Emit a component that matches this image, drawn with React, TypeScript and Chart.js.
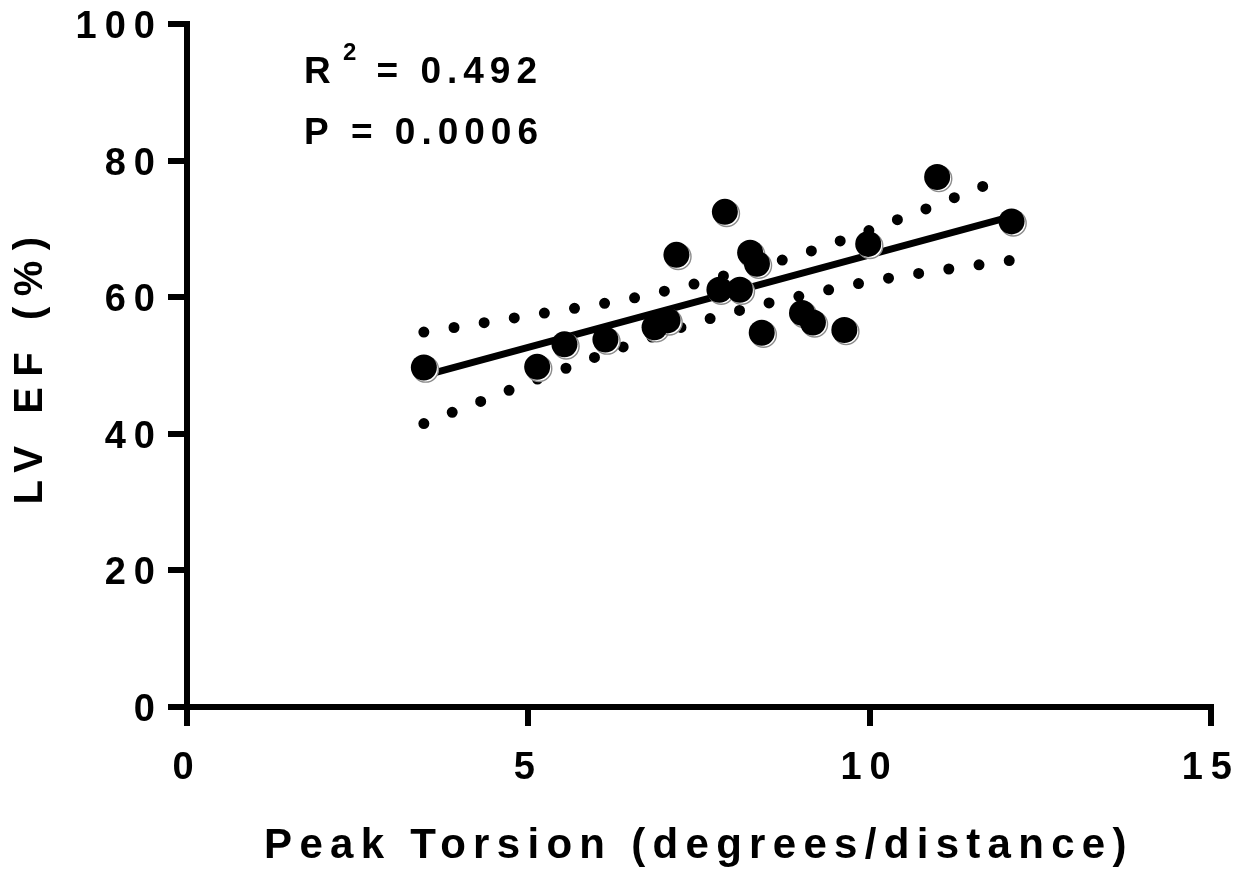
import React, { useEffect, useRef } from "react";
import { Chart, registerables } from "chart.js";

Chart.register(...registerables);

// ---- data ----
const torsion = [3.47, 5.13, 5.53, 6.13, 6.85, 7.04, 7.17, 7.88, 7.8, 8.1, 8.25, 8.35, 8.42, 9.01, 9.17, 9.63, 9.98, 10.99, 12.08];
const lvef = [49.7, 49.8, 53.1, 53.8, 55.6, 56.6, 66.2, 72.5, 61.1, 61.1, 66.5, 64.9, 54.8, 57.7, 56.3, 55.2, 67.8, 77.6, 71.1];

const fitX = [3.47, 12.07];
const fitY = [48.5, 71.8];

const bandX = [3.47, 4.0, 4.5, 5.0, 5.5, 6.0, 6.5, 7.0, 7.5, 8.0, 8.5, 9.0, 9.5, 10.0, 10.5, 11.0, 11.5, 12.07];
const upperBand = [54.9, 55.7, 56.5, 57.3, 58.1, 58.9, 59.8, 60.9, 62.1, 63.5, 64.8, 66.3, 68.0, 69.8, 71.7, 73.6, 75.6, 77.8];
const lowerBand = [41.5, 43.6, 45.5, 47.5, 49.4, 51.3, 53.1, 54.8, 56.4, 57.8, 59.1, 60.2, 61.3, 62.3, 63.15, 63.9, 64.6, 65.4];

const xTicks = [0, 5, 10, 15];
const yTicks = [0, 20, 40, 60, 80, 100];

const xTitle = "Peak Torsion (degrees/distance)";
const yTitle = "LV EF (%)";
const r2Text = "= 0.492";
const pText = "P = 0.0006";

const FAMILY = '"Liberation Sans", Arial, Helvetica, sans-serif';

const pairs = (xs: number[], ys: number[]) => xs.map((x, i) => ({ x, y: ys[i] }));

const SPACING: Record<string, { title: string; ticks: string }> = {
  x: { title: "7.3px", ticks: "8px" },
  y: { title: "10.5px", ticks: "8px" },
};

const spacingPlugin = {
  id: "letterSpacing",
  beforeDraw(chart: any) {
    Object.values(chart.scales).forEach((s: any) => {
      if (s.__wrapped) return;
      s.__wrapped = true;
      const ls = SPACING[s.id] || { title: "0px", ticks: "0px" };
      const oT = s.drawTitle.bind(s);
      const oL = s.drawLabels.bind(s);
      s.drawTitle = (...a: any[]) => {
        const c = chart.ctx;
        c.save();
        c.letterSpacing = ls.title;
        oT(...a);
        c.restore();
      };
      s.drawLabels = (...a: any[]) => {
        const c = chart.ctx;
        c.save();
        c.letterSpacing = ls.ticks;
        oL(...a);
        c.restore();
      };
    });
  },
};

const shadowPlugin = {
  id: "markerShadow",
  beforeDatasetDraw(chart: any, args: any) {
    if (chart.data.datasets[args.index]._shadow) {
      chart.ctx.save();
      chart.ctx.translate(1.8, 1.8);
    }
  },
  afterDatasetDraw(chart: any, args: any) {
    if (chart.data.datasets[args.index]._shadow) {
      chart.ctx.restore();
    }
  },
};

const statsPlugin = {
  id: "statsText",
  afterDraw(chart: any) {
    const ctx = chart.ctx;
    const { left, top } = chart.chartArea;
    ctx.save();
    ctx.fillStyle = "#000";
    ctx.textAlign = "left";
    ctx.textBaseline = "alphabetic";
    ctx.letterSpacing = "6px";
    ctx.font = `bold 37px ${FAMILY}`;
    ctx.fillText("R", left + 117, top + 59);
    ctx.fillText(r2Text, left + 189.5, top + 59);
    ctx.fillText(pText, left + 117, top + 119.5);
    ctx.font = `bold 24px ${FAMILY}`;
    ctx.letterSpacing = "0px";
    ctx.fillText("2", left + 156, top + 35.5);
    ctx.restore();
  },
};

export default function App() {
  const ref = useRef<HTMLCanvasElement | null>(null);

  useEffect(() => {
    if (!ref.current) return;
    const chart = new Chart(ref.current, {
      type: "scatter",
      data: {
        datasets: [
          {
            label: "points",
            data: pairs(torsion, lvef),
            backgroundColor: "#000",
            borderWidth: 0,
            pointRadius: 13,
            order: 1,
          } as any,
          {
            label: "shadow",
            _shadow: true,
            data: pairs(torsion, lvef),
            backgroundColor: "#fff",
            borderColor: "#8c8c8c",
            borderWidth: 1.4,
            pointRadius: 12.8,
            order: 2,
          } as any,
          {
            label: "fit",
            type: "line",
            data: pairs(fitX, fitY),
            borderColor: "#000",
            borderWidth: 7,
            pointRadius: 0,
            showLine: true,
            fill: false,
            order: 3,
          } as any,
          {
            label: "upper",
            type: "line",
            data: pairs(bandX, upperBand),
            borderColor: "#000",
            borderWidth: 11,
            borderDash: [0, 30.5],
            borderCapStyle: "round",
            borderJoinStyle: "round",
            cubicInterpolationMode: "monotone",
            pointRadius: 0,
            showLine: true,
            fill: false,
            order: 4,
          } as any,
          {
            label: "lower",
            type: "line",
            data: pairs(bandX, lowerBand),
            borderColor: "#000",
            borderWidth: 11,
            borderDash: [0, 30.5],
            borderCapStyle: "round",
            borderJoinStyle: "round",
            cubicInterpolationMode: "monotone",
            pointRadius: 0,
            showLine: true,
            fill: false,
            order: 5,
          } as any,
        ],
      },
      options: {
        responsive: false,
        animation: false,
        devicePixelRatio: 1,
        events: [],
        layout: { padding: { top: 23, right: 40, left: 0, bottom: 0 } },
        plugins: {
          legend: { display: false },
          tooltip: { enabled: false },
        },
        scales: {
          x: {
            type: "linear",
            position: "bottom",
            min: 0,
            max: 15,
            afterBuildTicks: (s: any) => {
              s.ticks = xTicks.map((v) => ({ value: v }));
            },
            afterFit: (s: any) => {
              s.height = 164;
            },
            grid: {
              display: true,
              drawOnChartArea: false,
              drawTicks: true,
              tickLength: 19,
              tickWidth: 6,
              lineWidth: 6,
              color: "#000",
            },
            border: { display: true, width: 6, color: "#000" },
            ticks: {
              color: "#000",
              font: { family: FAMILY, size: 38, weight: "bold", lineHeight: 1.2 },
              padding: 20,
              maxRotation: 0,
              autoSkip: false,
              callback: (v: any) => String(v),
            },
            title: {
              display: true,
              text: xTitle,
              color: "#000",
              font: { family: FAMILY, size: 42, weight: "bold", lineHeight: 1.16 },
              padding: { top: 0, bottom: 0 },
            },
          },
          y: {
            type: "linear",
            position: "left",
            min: 0,
            max: 100,
            afterBuildTicks: (s: any) => {
              s.ticks = yTicks.map((v) => ({ value: v }));
            },
            afterFit: (s: any) => {
              s.width = 187;
            },
            grid: {
              display: true,
              drawOnChartArea: false,
              drawTicks: true,
              tickLength: 19,
              tickWidth: 6,
              lineWidth: 6,
              color: "#000",
            },
            border: { display: true, width: 6, color: "#000" },
            ticks: {
              color: "#000",
              font: { family: FAMILY, size: 38, weight: "bold", lineHeight: 1.0 },
              padding: 5,
              labelOffset: 3.5,
              autoSkip: false,
              callback: (v: any) => String(v),
            },
            title: {
              display: true,
              text: yTitle,
              color: "#000",
              font: { family: FAMILY, size: 40, weight: "bold", lineHeight: 1.2 },
              padding: { top: 6.5, bottom: 0 },
            },
          },
        },
      } as any,
      plugins: [spacingPlugin, shadowPlugin, statsPlugin],
    });
    return () => chart.destroy();
  }, []);

  return (
    <div style={{ position: "absolute", left: 0, top: 0, width: 1252, height: 871, background: "#fff" }}>
      <canvas ref={ref} width={1252} height={871} style={{ width: 1252, height: 871, display: "block" }} />
    </div>
  );
}
